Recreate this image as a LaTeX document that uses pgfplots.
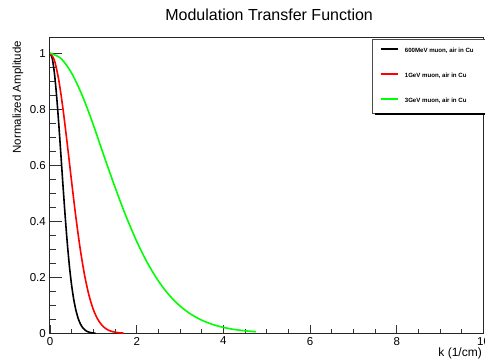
\documentclass[border=0pt]{standalone}
\usepackage{fontspec}
\setmainfont{Liberation Sans}
\usepackage{pgfplots}
\pgfplotsset{compat=1.18}

% Modulation transfer function for muons crossing air in copper
\pgfplotstableread{
k     mtf
0.00  1.0000
0.05  0.9824
0.10  0.9313
0.15  0.8520
0.20  0.7522
0.25  0.6408
0.30  0.5269
0.35  0.4180
0.40  0.3201
0.45  0.2365
0.50  0.1700
0.55  0.1190
0.60  0.0810
0.65  0.0530
0.70  0.0340
0.75  0.0210
0.80  0.0125
0.85  0.0072
0.90  0.0040
0.95  0.0021
1.00  0.0010
1.05  0.0005
}\muonA

\pgfplotstableread{
k     mtf
0.00  1.0000
0.10  0.9756
0.20  0.9060
0.30  0.8007
0.40  0.6737
0.50  0.5394
0.60  0.4111
0.70  0.2982
0.80  0.2059
0.90  0.1353
1.00  0.0847
1.10  0.0504
1.20  0.0286
1.30  0.0154
1.40  0.0079
1.50  0.0039
1.60  0.0018
1.70  0.0008
}\muonB

\pgfplotstableread{
k     mtf
0.00  1.0000
0.25  0.9817
0.50  0.9287
0.75  0.8467
1.00  0.7439
1.25  0.6310
1.50  0.5217
1.75  0.4194
2.00  0.3283
2.25  0.2506
2.50  0.1869
2.75  0.1363
3.00  0.0974
3.25  0.0682
3.50  0.0469
3.75  0.0317
4.00  0.0211
4.25  0.0138
4.50  0.0089
4.75  0.0057
}\muonC

\definecolor{rootred}{RGB}{255,0,0}
\definecolor{rootgreen}{RGB}{0,255,0}

\begin{document}
\begin{tikzpicture}[x=1pt,y=1pt]
\begin{axis}[
  at={(0,0)}, anchor=south west,
  scale only axis, width=433.5pt, height=295.5pt,
  xmin=0, xmax=10, ymin=0, ymax=1.055,
  xtick={0,2,...,10}, minor x tick num=3,
  ytick={0,0.2,0.4,0.6,0.8,1}, minor y tick num=3,
  tick align=inside,
  xtick pos=bottom, ytick pos=left,
  xtick style={/pgfplots/major tick length=8pt, /pgfplots/minor tick length=4pt, line width=0.8pt, black!80},
  ytick style={/pgfplots/major tick length=12pt, /pgfplots/minor tick length=6.5pt, line width=0.8pt, black!80},
  axis line style={line width=1pt, black!85},
  ticklabel style={font=\fontsize{11.5}{13}\selectfont},
  /pgf/number format/assume math mode=true,
  yticklabel style={inner sep=0pt, xshift=-4pt},
  xticklabel style={inner sep=0pt, yshift=-3.5pt},
  title={Modulation Transfer Function},
  title style={font=\fontsize{16}{18}\selectfont, inner sep=0pt,
    at={(rel axis cs:0.5055,1.0372)}, anchor=base},
  xlabel={k (1/cm)},
  xlabel style={font=\fontsize{12}{14}\selectfont, inner sep=0pt,
    at={(rel axis cs:0.9965,-0.0772)}, anchor=base east},
  ylabel={Normalized Amplitude},
  ylabel style={font=\fontsize{11.5}{13}\selectfont, inner sep=0pt,
    at={(rel axis cs:-0.0738,0.99)}, anchor=east},
  legend style={name=leg, at={(rel axis cs:0.742,0.9966)}, anchor=north west,
    draw=black!70, fill=white,
    font=\fontsize{6.1}{7}\bfseries,
    inner xsep=8pt, inner ysep=7pt, row sep=15pt, column sep=4.5pt},
  legend cell align=left,
  legend image code/.code={\draw[#1] (0pt,2pt) -- (17pt,2pt);},
]
\addplot[black, line width=1.6pt, smooth, forget plot] table[x=k, y=mtf] {\muonA};
\addplot[rootred, line width=1.6pt, smooth, forget plot] table[x=k, y=mtf] {\muonB};
\addplot[rootgreen, line width=1.6pt, smooth, forget plot] table[x=k, y=mtf] {\muonC};
\addlegendimage{draw=black, line width=1.5pt}
\addlegendentry{\makebox[72pt][l]{600MeV muon, air in Cu}}
\addlegendimage{draw=rootred, line width=1.5pt}
\addlegendentry{\makebox[72pt][l]{1GeV muon, air in Cu}}
\addlegendimage{draw=rootgreen, line width=1.5pt}
\addlegendentry{\makebox[72pt][l]{3GeV muon, air in Cu}}
\end{axis}
% drop shadow on the legend box
\draw[line width=2.5pt, black]
  ([xshift=3pt,yshift=-1.25pt]leg.south west) -- ([xshift=1.25pt,yshift=-1.25pt]leg.south east)
  -- ([xshift=1.25pt,yshift=-3pt]leg.north east);
\pgfresetboundingbox
\useasboundingbox (-50pt,-26.7pt) rectangle (435pt,333.3pt);
\end{tikzpicture}
\end{document}
